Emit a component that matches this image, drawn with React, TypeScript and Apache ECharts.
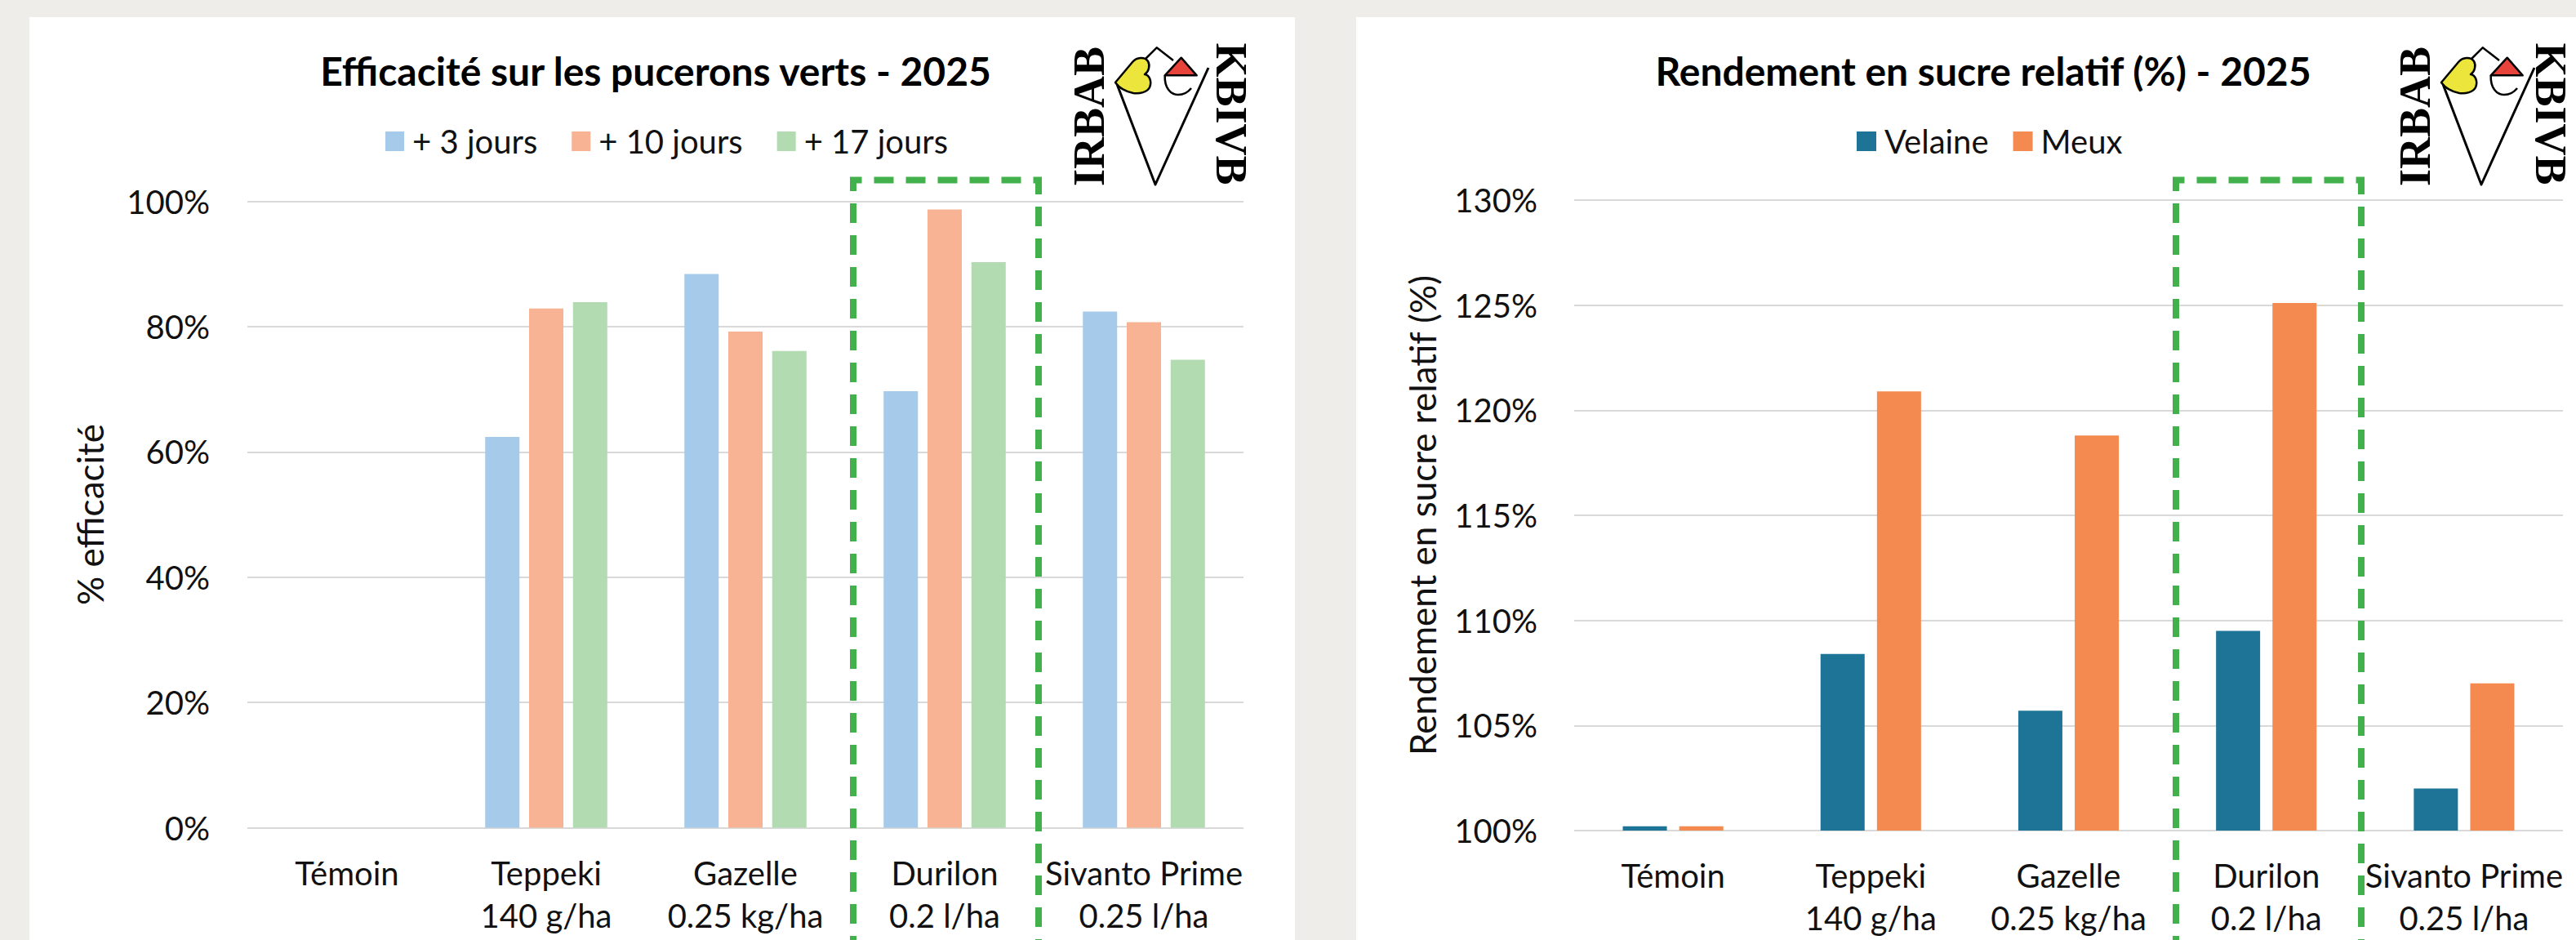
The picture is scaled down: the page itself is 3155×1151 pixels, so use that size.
import React, { useEffect, useRef } from 'react';
import * as echarts from 'echarts';

// ---------- data ----------
const categories = [
  'Témoin',
  'Teppeki\n140 g/ha',
  'Gazelle\n0.25 kg/ha',
  'Durilon\n0.2 l/ha',
  'Sivanto Prime\n0.25 l/ha',
];
const efficacyNames = ['+ 3 jours', '+ 10 jours', '+ 17 jours'];
const efficacy3 = [0, 62.4, 88.4, 69.7, 82.4];
const efficacy10 = [0, 82.9, 79.2, 98.7, 80.7];
const efficacy17 = [0, 83.9, 76.1, 90.3, 74.7];
const efficacyAxis = { min: 0, max: 100, interval: 20 };

const yieldNames = ['Velaine', 'Meux'];
const yieldVelaine = [100.2, 108.4, 105.7, 109.5, 102.0];
const yieldMeux = [100.2, 120.9, 118.8, 125.1, 107.0];
const yieldAxis = { min: 100, max: 130, interval: 5 };

const titles = ['Efficacité sur les pucerons verts - 2025', 'Rendement en sucre relatif (%) - 2025'];
const axisNames = ['% efficacité', 'Rendement en sucre relatif (%)'];

// ---------- logo shapes ----------
const HEART =
  'M1366,101 L1387,76 C1392,70 1402,69 1406,75 C1409,80 1407,88 1402,91 C1408,92 1411,100 1408,107 C1405,113 1396,115 1388,114 C1378,112 1371,108 1366,101 Z';
const SCOOP = 'M1426.7,92.3 C1426,108 1434,116 1443,116 C1450,116 1455,113 1459,108';
const TOPLINE = 'M1403,72 L1416.7,58.3 L1437,74';
echarts.graphic.registerShape('logoHeart', echarts.graphic.extendPath(HEART, {}));
echarts.graphic.registerShape('logoScoop', echarts.graphic.extendPath(SCOOP, {}));
echarts.graphic.registerShape('logoTop', echarts.graphic.extendPath(TOPLINE, {}));

const FONT = 'Lato, "Open Sans", sans-serif';
const TXT = '#111111';

function logo(dx: number, kbivbX: number) {
  return {
    type: 'group',
    x: dx,
    y: 0,
    z: 20,
    children: [
      {
        type: 'text',
        x: 1333.5,
        y: 142.5,
        rotation: Math.PI / 2,
        style: {
          text: 'IRBAB',
          font: 'bold 54px "Liberation Serif", "DejaVu Serif", serif',
          lineHeight: 36,
          fill: '#000',
          align: 'center',
          verticalAlign: 'middle',
        },
      },
      {
        type: 'text',
        x: kbivbX,
        y: 139.5,
        rotation: -Math.PI / 2,
        style: {
          text: 'KBIVB',
          font: 'bold 54px "Liberation Serif", "DejaVu Serif", serif',
          lineHeight: 36,
          fill: '#000',
          align: 'center',
          verticalAlign: 'middle',
        },
      },
      {
        type: 'polyline',
        shape: { points: [[1368, 103], [1415, 226], [1480, 83]] },
        style: { stroke: '#000', lineWidth: 3, fill: null, lineJoin: 'round' },
      },
      {
        type: 'logoTop',
        style: { stroke: '#000', lineWidth: 2.5, fill: null, lineJoin: 'round' },
      },
      {
        type: 'polygon',
        shape: { points: [[1446.7, 70.7], [1426.7, 92.3], [1465.7, 92.3]] },
        style: { fill: '#e8433b', stroke: '#000', lineWidth: 2.5, lineJoin: 'round' },
      },
      {
        type: 'logoScoop',
        style: { stroke: '#000', lineWidth: 2.5, fill: null },
      },
      {
        type: 'logoHeart',
        style: { fill: '#ece53c', stroke: '#000', lineWidth: 2.5, lineJoin: 'round' },
      },
    ],
  };
}

function dashedBox(x1: number, x2: number, top: number) {
  return {
    type: 'polyline',
    z: 30,
    shape: { points: [[x1, 1170], [x1, top], [x2, top], [x2, 1170]] },
    style: { stroke: '#42b14b', lineWidth: 8, lineDash: [24, 15], fill: null },
  };
}

function buildOption(): any {
  const axisLabel = { fontFamily: FONT, fontSize: 40, color: TXT };
  const splitLine = { show: true, lineStyle: { color: '#d9d9d9', width: 2 } };
  const xAxisCommon = {
    type: 'category',
    data: categories,
    axisLine: { show: false },
    axisTick: { show: false },
    axisLabel: { ...axisLabel, interval: 0, lineHeight: 52, margin: 29 },
  };
  const nameStyle = { fontFamily: FONT, fontSize: 44, color: TXT };
  const legendText = { fontFamily: FONT, fontSize: 40, color: TXT, padding: [0, 0, 0, 5] };
  return {
    animation: false,
    backgroundColor: '#eeede9',
    title: [
      {
        text: titles[0],
        left: 798,
        top: 57,
        textAlign: 'center',
        textStyle: { fontFamily: FONT, fontWeight: 'bold', fontSize: 48, color: '#000' },
      },
      {
        text: titles[1],
        left: 2424,
        top: 57,
        textAlign: 'center',
        textStyle: { fontFamily: FONT, fontWeight: 'bold', fontSize: 48, color: '#000' },
      },
    ],
    legend: [
      {
        data: efficacyNames,
        left: 467,
        top: 148,
        icon: 'rect',
        itemWidth: 23,
        itemHeight: 24,
        itemGap: 42,
        textStyle: legendText,
      },
      {
        data: yieldNames,
        left: 2269,
        top: 148,
        icon: 'rect',
        itemWidth: 24,
        itemHeight: 24,
        itemGap: 30,
        textStyle: legendText,
      },
    ],
    grid: [
      { left: 303, top: 246.5, width: 1220, height: 767, containLabel: false },
      { left: 1928, top: 245, width: 1211, height: 772, containLabel: false },
    ],
    xAxis: [
      { ...xAxisCommon, gridIndex: 0 },
      { ...xAxisCommon, gridIndex: 1 },
    ],
    yAxis: [
      {
        type: 'value',
        gridIndex: 0,
        min: efficacyAxis.min,
        max: efficacyAxis.max,
        interval: efficacyAxis.interval,
        axisLine: { show: false },
        axisTick: { show: false },
        splitLine,
        axisLabel: { ...axisLabel, margin: 46, formatter: '{value}%' },
        name: axisNames[0],
        nameLocation: 'middle',
        nameGap: 171,
        nameTextStyle: nameStyle,
      },
      {
        type: 'value',
        gridIndex: 1,
        min: yieldAxis.min,
        max: yieldAxis.max,
        interval: yieldAxis.interval,
        startValue: yieldAxis.min,
        axisLine: { show: false },
        axisTick: { show: false },
        splitLine,
        axisLabel: { ...axisLabel, margin: 45, formatter: '{value}%' },
        name: axisNames[1],
        nameLocation: 'middle',
        nameGap: 164,
        nameTextStyle: nameStyle,
      },
    ],
    series: [
      { name: efficacyNames[0], type: 'bar', xAxisIndex: 0, yAxisIndex: 0, data: efficacy3, barWidth: 42, barGap: '28%', itemStyle: { color: '#a6cbea' } },
      { name: efficacyNames[1], type: 'bar', xAxisIndex: 0, yAxisIndex: 0, data: efficacy10, barWidth: 42, barGap: '28%', itemStyle: { color: '#f8b394' } },
      { name: efficacyNames[2], type: 'bar', xAxisIndex: 0, yAxisIndex: 0, data: efficacy17, barWidth: 42, barGap: '28%', itemStyle: { color: '#b3dbb2' } },
      { name: yieldNames[0], type: 'bar', xAxisIndex: 1, yAxisIndex: 1, data: yieldVelaine, barWidth: 54, barGap: '28%', itemStyle: { color: '#1d7497' } },
      { name: yieldNames[1], type: 'bar', xAxisIndex: 1, yAxisIndex: 1, data: yieldMeux, barWidth: 54, barGap: '28%', itemStyle: { color: '#f58a50' } },
    ],
    graphic: [
      { type: 'rect', z: -10, shape: { x: 36, y: 21, width: 1550, height: 1200 }, style: { fill: '#ffffff' }, silent: true },
      { type: 'rect', z: -10, shape: { x: 1661, y: 21, width: 1600, height: 1200 }, style: { fill: '#ffffff' }, silent: true },
      dashedBox(1045, 1272, 220.5),
      dashedBox(2665, 2892, 220.5),
      logo(0, 1508),
      logo(1624, 1500),
    ],
  };
}

export default function App() {
  const ref = useRef<HTMLDivElement>(null);
  useEffect(() => {
    if (!ref.current) return;
    const chart = echarts.init(ref.current, undefined, { renderer: 'svg' });
    chart.setOption(buildOption());
    return () => chart.dispose();
  }, []);
  return (
    <div
      ref={ref}
      style={{ position: 'absolute', left: 0, top: 0, width: 3155, height: 1151, overflow: 'hidden' }}
    />
  );
}
